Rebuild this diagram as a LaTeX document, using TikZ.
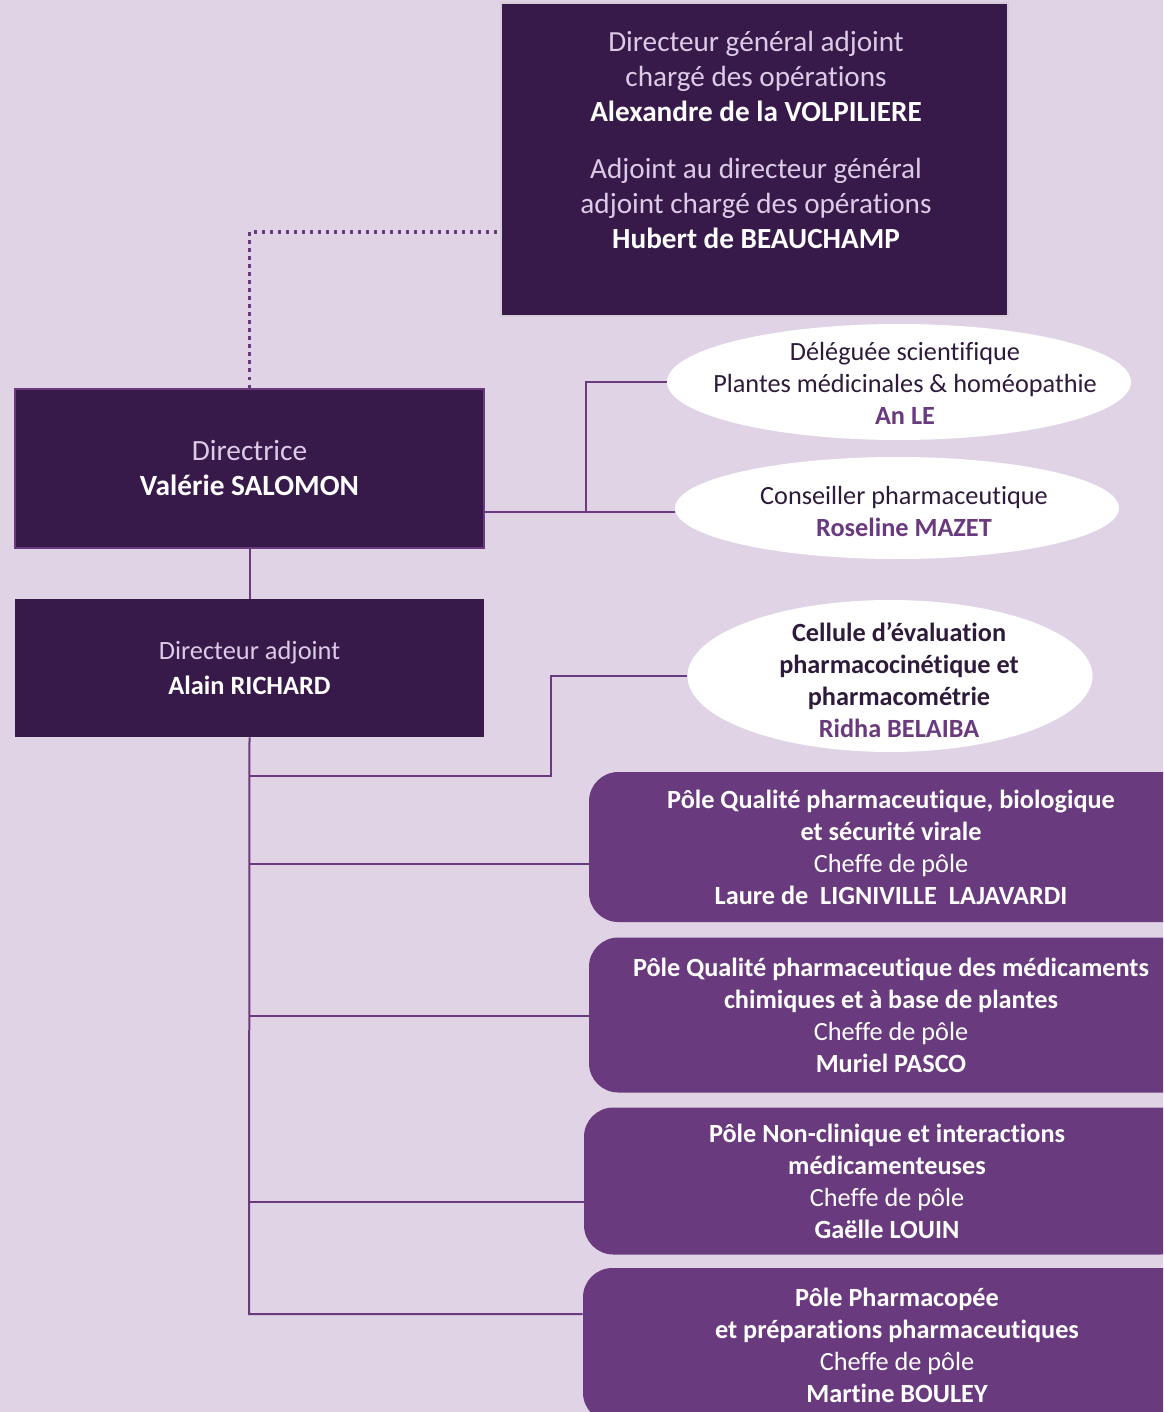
\documentclass[tikz,border=0pt]{standalone}
\usepackage{fontspec}
\setmainfont{Carlito}[Ligatures=NoCommon]
\usetikzlibrary{shapes.geometric}
\definecolor{bg}{HTML}{E0D3E6}
\definecolor{dark}{HTML}{381A4A}
\definecolor{pole}{HTML}{6A3A7E}
\definecolor{lav}{HTML}{DCCBE6}
\definecolor{ink}{HTML}{2E1A3A}
\definecolor{rim}{HTML}{D4CCD8}
\newcommand\pxu{0.75pt}
\begin{document}
\begin{tikzpicture}[x=0.75pt,y=-0.75pt,
  darkbox/.style={rectangle,fill=dark,inner sep=0pt,align=center,text=white},
  oval/.style={ellipse,fill=white,inner sep=0pt},
  ovaltext/.style={align=center,text=ink,inner sep=0pt,
    font=\fontsize{19.7}{24}\selectfont},
  polebox/.style={rectangle,rounded corners=22pt,fill=pole,inner sep=0pt,align=center,
    text=white,font=\fontsize{19.7}{24}\selectfont},
  link/.style={draw=pole,line width=1.5pt},
  dotlink/.style={draw=pole,line width=2.3pt,dash pattern=on 2.3pt off 3.7pt}]
\fill[bg] (0,0) rectangle (1163,1412);
\useasboundingbox (0,0) rectangle (1163,1412);
\clip (0,0) rectangle (1163,1412);

% top box
\node[darkbox,draw=rim,line width=1.5pt,minimum width=507*\pxu,minimum height=313*\pxu] (dga) at (754.5,159.5) {};
\node[align=center,text=lav,font=\fontsize{21.9}{26.25}\selectfont] (dgat) at (756,140)
  {Directeur général adjoint\\chargé des opérations\\
   \textcolor{white}{\bfseries Alexandre de la VOLPILIERE}\\[16.5pt]
   Adjoint au directeur général\\adjoint chargé des opérations\\
   \textcolor{white}{\bfseries Hubert de BEAUCHAMP}};

% directrice
\node[darkbox,draw=pole,line width=1.5pt,minimum width=469*\pxu,minimum height=159*\pxu,
  font=\fontsize{22}{26.25}\selectfont] (dir) at (249.5,468.5)
  {\textcolor{lav}{Directrice}\\{\bfseries Valérie SALOMON}};

% directeur adjoint
\node[darkbox,minimum width=469*\pxu,minimum height=138*\pxu,
  font=\fontsize{19.8}{26.25}\selectfont] (da) at (249.5,668)
  {\textcolor{lav}{Directeur adjoint}\\{\bfseries Alain RICHARD}};

% ellipses
\node[oval,minimum width=464*\pxu,minimum height=116*\pxu] (el1) at (899,382) {};
\node[ovaltext] (el1t) at (905,383)
  {Déléguée scientifique\\Plantes médicinales \& homéopathie\\\textcolor{pole}{\bfseries An LE}};
\node[oval,minimum width=444*\pxu,minimum height=102*\pxu] (el2) at (897,508) {};
\node[ovaltext] (el2t) at (904,511)
  {Conseiller pharmaceutique\\\textcolor{pole}{\bfseries Roseline MAZET}};
\node[oval,minimum width=405*\pxu,minimum height=152*\pxu] (el3) at (890,676) {};
\node[ovaltext,font=\fontsize{19.7}{24}\selectfont\bfseries] (el3t) at (899,680)
  {Cellule d’évaluation\\pharmacocinétique et\\pharmacométrie\\\textcolor{pole}{Ridha BELAIBA}};

% poles
\node[polebox,minimum width=604*\pxu,minimum height=150*\pxu] (p1) at (891,847)
  {{\bfseries Pôle Qualité pharmaceutique, biologique}\\{\bfseries et sécurité virale}\\Cheffe de pôle\\{\bfseries Laure de\ \ LIGNIVILLE\ \ LAJAVARDI}};
\node[polebox,minimum width=604*\pxu,minimum height=155*\pxu] (p2) at (891,1015)
  {{\bfseries Pôle Qualité pharmaceutique des médicaments}\\{\bfseries chimiques et à base de plantes}\\Cheffe de pôle\\{\bfseries Muriel PASCO}};
\node[polebox,minimum width=606*\pxu,minimum height=147*\pxu] (p3) at (887,1181)
  {{\bfseries Pôle Non-clinique et interactions}\\{\bfseries médicamenteuses}\\Cheffe de pôle\\{\bfseries Gaëlle LOUIN}};
\node[polebox,minimum width=628*\pxu,minimum height=154*\pxu] (p4) at (897,1345)
  {{\bfseries Pôle Pharmacopée}\\{\bfseries et préparations pharmaceutiques}\\Cheffe de pôle\\{\bfseries Martine BOULEY}};

% connectors
\coordinate (c0) at (497,232);
\draw[dotlink] (c0) -| (dir.north);
\draw[link] (dir.south) -- (da.north);
\coordinate (b1) at (586,512);
\draw[link] (dir.east |- b1) -- (el2.west |- b1);
\draw[link] (el1.west) -| (b1);
\coordinate (tb) at (249,1314);
\draw[link] (da.south) -- (tb) -- (p4.west |- tb);
\coordinate (b3) at (551,776);
\draw[link] (da.south |- b3) -- (b3) |- (el3.west);
\draw[link] (da.south |- 0,864) -- (p1.west |- 0,864);
\draw[link] (da.south |- 0,1016) -- (p2.west |- 0,1016);
\draw[link] (da.south |- 0,1202) -- (p3.west |- 0,1202);
\end{tikzpicture}
\end{document}
